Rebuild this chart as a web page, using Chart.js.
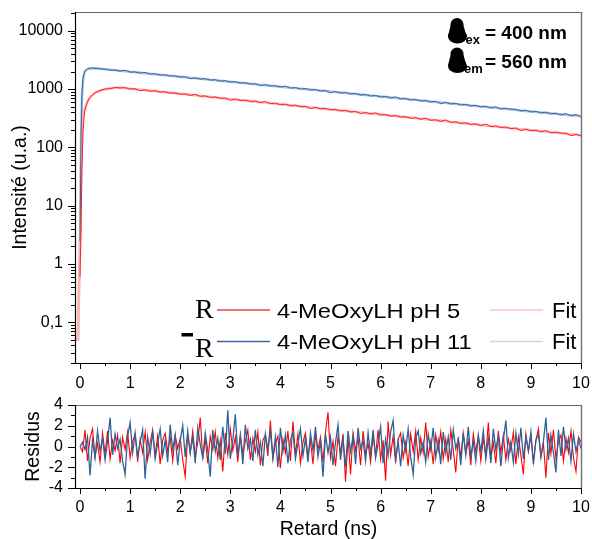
<!DOCTYPE html>
<html><head><meta charset="utf-8">
<script src="https://cdn.jsdelivr.net/npm/chart.js@4/dist/chart.umd.min.js"></script>
<style>
html,body{margin:0;padding:0;background:#fff;}
#wrap{position:relative;width:592px;height:539px;overflow:hidden;}
canvas{position:absolute;left:0;}
#c1{top:0;} #c2{top:395px;}
</style></head><body>
<div id="wrap"><canvas id="c1" width="592" height="395"></canvas><canvas id="c2" width="592" height="144"></canvas></div>
<script>
// ---------- DATA ----------
const seriesLabels = ['4-MeOxyLH pH 5', '4-MeOxyLH pH 11', 'Fit', 'Fit'];
const annotLines = [['\u03BB', 'ex', '= 400 nm'], ['\u03BB', 'em', '= 560 nm']];

// decay measurement times (ns)
const decayT = [0,0.02,0.04,0.06,0.08,0.1,0.15,0.2,0.25,0.3,0.35,0.4,
  0.5,0.6,0.7,0.8,0.9,1.0,1.1,1.2,1.3,1.4,1.5,1.6,1.7,1.8,1.9,2.0,2.1,2.2,2.3,2.4,
  2.5,2.6,2.7,2.8,2.9,3.0,3.1,3.2,3.3,3.4,3.5,3.6,3.7,3.8,3.9,4.0,4.1,4.2,4.3,4.4,
  4.5,4.6,4.7,4.8,4.9,5.0,5.1,5.2,5.3,5.4,5.5,5.6,5.7,5.8,5.9,6.0,6.1,6.2,6.3,6.4,
  6.5,6.6,6.7,6.8,6.9,7.0,7.1,7.2,7.3,7.4,7.5,7.6,7.7,7.8,7.9,8.0,8.1,8.2,8.3,8.4,
  8.5,8.6,8.7,8.8,8.9,9.0,9.1,9.2,9.3,9.4,9.5,9.6,9.7,9.8,9.9,10.0];
const decayPH5 = [0.6,4,45,190,330,440,610,720,800,860,905,945,
  1000,1015,1068,1045,1060,1000,1015,935,975,920,
  938,885,900,848,862,815,830,780,810,750,
  765,718,734,690,705,640,676,636,649,610,
  623,586,612,562,574,540,551,517,529,497,
  508,462,488,458,468,440,449,422,431,405,
  414,380,397,373,392,358,366,343,351,330,
  337,316,324,303,318,291,298,279,296,268,
  275,257,264,247,253,237,250,227,233,218,
  224,209,215,194,206,193,198,185,195,177,
  182,176,175,158,168,157];
const decayPH11 = [2.5,140,850,1480,1830,2060,2230,2280,2310,2260,2275,2220,
  2205,2110,2130,2030,2110,1950,1975,1880,1935,1800,
  1830,1735,1760,1668,1690,1605,1630,1500,1565,1480,
  1510,1425,1450,1368,1395,1315,1345,1268,1290,1215,
  1240,1140,1195,1125,1148,1082,1125,1040,1062,1000,
  1022,962,984,925,945,860,910,855,875,822,
  842,790,808,760,778,731,748,702,735,676,
  692,649,666,624,641,600,616,560,593,555,
  570,533,548,513,527,493,507,474,498,456,
  469,452,451,421,434,405,417,389,402,374,
  386,360,380,346,368,334];

// fitted curves
const fitT    = [-0.1,-0.04,-0.02,0,0.02,0.04,0.06,0.08,0.1,0.15,0.2,0.3,0.4,0.5,0.6,0.8,1,2,3,4,5,6,7,8,9,10];
const fitPH5  = [0.05,0.05,0.3,2,30,160,300,410,480,610,720,860,945,995,1030,1062,1017,828,674,549,448,365,297,242,197,161];
const fitPH11 = [0.05,0.05,0.5,3,120,800,1450,1820,2030,2200,2260,2275,2235,2181,2139,2057,1978,1627,1338,1100,905,745,612,504,414,341];

// weighted residuals, sampled every resStep ns from 0
const resStep = 0.05;
const resPH5 = [0.0,-0.5,1.6,-1.4,0.8,1.7,-1.0,0.3,-1.5,1.3,-0.7,1.5,-1.2,0.6,-0.4,1.1,-1.6,0.9,-0.3,1.4,
  -1.1,0.5,1.2,-1.5,0.7,-0.6,1.4,-1.3,0.4,1.6,-0.8,1.0,-1.7,0.6,1.3,-0.5,0.9,-1.4,1.1,-0.2,
  0.8,-1.3,-2.9,1.2,-0.6,1.5,-1.0,0.4,2.8,-1.2,0.7,-1.6,1.0,-0.3,1.4,-1.1,0.6,-2.4,1.3,-0.8,
  1.7,-0.4,0.9,-1.5,1.2,-0.7,0.5,1.6,-1.3,0.8,-0.5,1.4,-1.8,0.6,1.1,-0.9,2.5,-1.2,0.3,1.0,
  -2.1,0.7,-0.6,1.5,-1.4,2.4,-0.8,1.2,-1.6,0.4,1.3,-1.0,0.6,-1.7,1.1,-0.3,0.9,-1.5,1.4,3.3,
  -1.1,0.5,-1.9,1.0,-0.6,1.2,-3.4,0.8,-2.7,1.3,-0.4,0.9,-1.8,1.5,-0.7,0.3,-1.5,1.1,-0.9,1.6,
  -1.2,0.6,-3.3,2.4,-0.8,1.0,-1.6,0.7,1.3,-1.1,0.4,-1.9,1.2,-0.5,1.5,-1.3,0.8,-0.6,2.3,-1.0,
  0.5,-1.7,1.1,-0.4,1.4,-1.2,0.7,-1.5,1.6,-0.3,-2.5,0.9,-1.0,1.3,-0.7,0.6,-1.8,1.2,-0.5,1.0,
  -1.4,0.8,-0.9,2.3,-1.1,0.4,-1.6,1.5,-0.6,1.1,-1.3,0.7,-0.4,1.4,-1.7,0.9,-0.8,-2.7,1.2,-0.5,
  1.0,-1.5,0.6,1.7,-1.0,0.3,-3.0,1.3,-0.7,1.6,-1.2,0.5,1.1,-1.4,0.8,-0.6,1.5,-1.1,-2.4,0.9,
  0.4];
const resPH11 = [0.0,0.4,-0.3,0.9,-2.8,0.6,-1.1,1.5,-0.4,0.8,-1.3,0.5,2.8,-0.8,1.2,-0.2,0.7,-1.4,-2.7,1.0,
  2.3,-0.6,1.3,-1.0,0.4,1.6,-3.1,0.9,-0.7,1.4,-1.2,0.3,1.7,-0.9,0.6,-1.5,2.1,-0.3,1.1,-1.8,
  0.5,2.0,-1.0,1.5,-0.6,0.9,-1.6,1.8,0.2,-1.1,1.3,-0.4,-2.9,1.6,-0.5,0.8,-1.3,1.9,-0.7,3.5,
  -1.2,0.6,3.1,-0.9,1.0,-1.7,2.1,-0.2,0.7,-1.4,1.6,-0.8,0.4,-1.9,1.2,-0.3,1.5,-1.1,0.9,-2.0,
  1.8,-0.5,1.1,-1.6,0.6,1.4,-1.2,0.3,1.7,-0.9,0.8,-1.5,1.3,-0.4,1.9,-1.0,0.5,-2.9,1.2,-0.6,
  0.9,-1.8,0.4,2.1,-1.3,0.7,-2.0,1.5,-0.5,1.0,-1.7,1.8,-0.2,0.6,-1.4,1.3,-0.8,1.6,-1.1,0.3,
  1.9,-1.6,0.7,-0.9,1.4,2.5,-1.2,0.5,-1.9,1.1,-0.4,1.7,-1.0,-2.7,0.8,1.5,-0.7,0.4,-1.5,1.2,
  -0.3,1.8,-1.1,0.6,-1.7,1.4,-0.6,0.9,-1.3,1.6,-0.2,0.7,-1.8,1.3,-0.8,1.9,-1.0,0.5,-1.4,1.1,
  -0.5,1.5,-1.2,0.8,-1.6,1.7,-0.3,1.0,-1.9,0.6,2.5,-1.1,0.4,-1.5,1.3,-0.7,1.8,-1.2,0.9,-0.4,
  1.4,-1.7,0.6,1.2,-1.0,0.5,2.8,-1.3,1.1,-0.6,-2.5,1.6,-0.9,1.9,-0.3,0.8,-1.4,1.2,-0.5,0.7,
  -0.2];

// axis ticks / labels
const xMajorTicks = [0,1,2,3,4,5,6,7,8,9,10];
const xTickLabels = ['0','1','2','3','4','5','6','7','8','9','10'];
const yMajorTicks = [0.1,1,10,100,1000,10000];
const yTickLabels = ['0,1','1','10','100','1000','10000'];
const resMajorTicks = [-4,-2,0,2,4];
const resTickLabels = ['-4','-2','0','2','4'];

// ---------- helpers ----------
const FONT = '"Liberation Sans", Arial, Helvetica, sans-serif';
const pts = (xs, ys) => ys.map((y, i) => ({x: xs[i], y}));
const resPts = ys => ys.map((y, i) => ({x: i * resStep, y}));
const near = (a, b) => Math.abs(a - b) < 1e-9 * Math.max(1, Math.abs(b));
const labelFor = (v, majors, labels) => { const i = majors.findIndex(m => near(v, m)); return i < 0 ? '' : labels[i]; };
const noPad = s => { s.paddingLeft = 0; s.paddingRight = 0; s.paddingTop = 0; s.paddingBottom = 0; };

const xTickValues = [];
xMajorTicks.forEach((v, i) => { xTickValues.push(v); if (i < xMajorTicks.length - 1) xTickValues.push((v + xMajorTicks[i + 1]) / 2); });
const yTickValues = [];
[0.01].concat(yMajorTicks).forEach(d => { for (let k = 1; k <= 9; k++) { const v = +(d * k).toPrecision(6); if (v >= 0.02 && v <= 21000) yTickValues.push(v); } });
const resTickValues = [];
for (let i = 0; i < resMajorTicks.length; i++) { resTickValues.push(resMajorTicks[i]); if (i < resMajorTicks.length - 1) resTickValues.push((resMajorTicks[i] + resMajorTicks[i + 1]) / 2); }

function line(ctx, x1, y1, x2, y2, color, w) {
  ctx.beginPath(); ctx.strokeStyle = color; ctx.lineWidth = w; ctx.moveTo(x1, y1); ctx.lineTo(x2, y2); ctx.stroke();
}

const frameAndTicks = {
  id: 'frameAndTicks',
  afterDraw(chart, args, opts) {
    const ctx = chart.ctx, a = chart.chartArea;
    const xs = chart.scales.x, ys = chart.scales.y;
    ctx.save();
    line(ctx, a.left, a.top + 0.5, a.right, a.top + 0.5, '#666', 1);
    line(ctx, a.right - 0.5, a.top, a.right - 0.5, a.bottom, '#777', 1.5);
    line(ctx, a.left + 0.5, a.top, a.left + 0.5, a.bottom + 0.5, '#000', 1.2);
    line(ctx, a.left, a.bottom + 0.5, a.right, a.bottom + 0.5, '#000', 1.2);
    xs.ticks.forEach(t => {
      const p = Math.round(xs.getPixelForValue(t.value)) + 0.5;
      const L = xMajorTicks.some(m => near(t.value, m)) ? 6 : 3;
      line(ctx, p, a.bottom, p, a.bottom + L, '#000', 1);
    });
    ys.ticks.forEach(t => {
      const p = Math.round(ys.getPixelForValue(t.value)) + 0.5;
      const L = opts.yMajor.some(m => near(t.value, m)) ? 7 : 4;
      line(ctx, a.left - L, p, a.left, p, '#000', 1);
    });
    ctx.restore();
  }
};

function stretchText(ctx, txt, x, y, sx) {
  ctx.save(); ctx.translate(x, y); ctx.scale(sx, 1); ctx.fillText(txt, 0, 0); ctx.restore();
}
function blob(ctx, cx, cy) {
  ctx.beginPath(); ctx.arc(cx, cy - 11.5, 6.5, 0, Math.PI * 2); ctx.fill();
  ctx.beginPath(); ctx.ellipse(cx + 0.5, cy + 0.5, 9.5, 7, 0, 0, Math.PI * 2); ctx.fill();
  ctx.beginPath(); ctx.moveTo(cx - 6, cy - 12); ctx.lineTo(cx + 6, cy - 12); ctx.lineTo(cx + 9.5, cy); ctx.lineTo(cx - 9, cy); ctx.closePath(); ctx.fill();
}

const overlay = {
  id: 'overlay',
  afterDraw(chart) {
    const ctx = chart.ctx;
    ctx.save();
    ctx.fillStyle = '#000';
    ctx.textBaseline = 'alphabetic';
    // annotation (top right)
    const rows = [{b: 38.5, sb: 43.5, sx: 465.5, cy: 36}, {b: 67.5, sb: 73, sx: 464, cy: 65.5}];
    rows.forEach((r, i) => {
      const [lam, sub, rest] = annotLines[i];
      ctx.font = 'bold 22px ' + FONT; ctx.fillText(lam, 450, r.b);
      ctx.font = 'bold 13px ' + FONT; ctx.fillText(sub, r.sx, r.sb);
      blob(ctx, 457, r.cy);
      ctx.font = 'bold 19px ' + FONT; ctx.fillText(rest, 485, r.b);
    });
    // legend
    ctx.font = '28px "Liberation Serif", serif';
    ctx.fillText('R', 195, 318);
    ctx.fillText('R', 195, 356.5);
    ctx.fillRect(181.5, 333, 11.5, 3.5);
    line(ctx, 217, 310, 270, 310, '#e64646', 1.5);
    line(ctx, 217, 341.5, 270, 341.5, '#3d6a9a', 1.5);
    line(ctx, 490, 310, 543, 310, '#ffc2c2', 1.5);
    line(ctx, 490, 341.5, 543, 341.5, '#c6d6eb', 1.5);
    ctx.fillStyle = '#000000';
    ctx.globalAlpha = 1;
    ctx.font = '21px ' + FONT;
    stretchText(ctx, seriesLabels[0], 277, 317.5, 1.13);
    stretchText(ctx, seriesLabels[1], 277, 349, 1.13);
    ctx.font = '22px ' + FONT;
    ctx.fillText(seriesLabels[2], 552, 317.5);
    ctx.fillText(seriesLabels[3], 552, 349);
    ctx.restore();
  }
};

const tickFont = {family: FONT, size: 16};
const titleFont = {family: FONT, size: 19.5, lineHeight: 1.2};

// ---------- decay chart ----------
new Chart(document.getElementById('c1'), {
  type: 'line',
  data: {
    datasets: [
      {label: seriesLabels[2], data: pts(fitT, fitPH5), borderColor: '#ffb4b4', borderWidth: 2.5, order: 2},
      {label: seriesLabels[3], data: pts(fitT, fitPH11), borderColor: '#a9c3e2', borderWidth: 2.5, order: 2},
      {label: seriesLabels[0], data: pts(decayT, decayPH5), borderColor: '#ff2020', borderWidth: 1, order: 1},
      {label: seriesLabels[1], data: pts(decayT, decayPH11), borderColor: '#33669c', borderWidth: 1, order: 1}
    ]
  },
  options: {
    responsive: false, animation: false, devicePixelRatio: 1,
    layout: {padding: {top: 12, right: 10, left: 0, bottom: 0}},
    elements: {point: {radius: 0}, line: {tension: 0}},
    plugins: {legend: {display: false}, tooltip: {enabled: false}, frameAndTicks: {yMajor: yMajorTicks}},
    scales: {
      x: {
        type: 'linear', min: -0.1, max: 10.02,
        afterBuildTicks: s => { s.ticks = xTickValues.map(v => ({value: v})); },
        afterFit: s => { s.height = 32; noPad(s); },
        grid: {display: false, drawTicks: false},
        border: {display: false},
        ticks: {autoSkip: false, maxRotation: 0, padding: 10.5, color: '#000', font: tickFont,
          callback: v => labelFor(v, xMajorTicks, xTickLabels)}
      },
      y: {
        type: 'logarithmic', min: 0.02, max: 21000,
        afterBuildTicks: s => { s.ticks = yTickValues.map(v => ({value: v})); },
        afterFit: s => { s.width = 75; noPad(s); },
        grid: {display: false, drawTicks: false},
        border: {display: false},
        title: {display: true, text: 'Intensité (u.a.)', color: '#000', font: titleFont, padding: {top: 9, bottom: 0}},
        ticks: {autoSkip: false, padding: 12, color: '#000', font: tickFont,
          callback: v => labelFor(v, yMajorTicks, yTickLabels)}
      }
    }
  },
  plugins: [frameAndTicks, overlay]
});

// ---------- residuals chart ----------
new Chart(document.getElementById('c2'), {
  type: 'line',
  data: {
    datasets: [
      {label: seriesLabels[0], data: resPts(resPH5), borderColor: '#ff0000', borderWidth: 1.1, order: 2},
      {label: seriesLabels[1], data: resPts(resPH11), borderColor: '#2f6398', borderWidth: 1.3, order: 1}
    ]
  },
  options: {
    responsive: false, animation: false, devicePixelRatio: 1,
    layout: {padding: {top: 10, right: 10, left: 0, bottom: 0}},
    elements: {point: {radius: 0}, line: {tension: 0}},
    plugins: {legend: {display: false}, tooltip: {enabled: false}, frameAndTicks: {yMajor: resMajorTicks}},
    scales: {
      x: {
        type: 'linear', min: -0.1, max: 10.02,
        afterBuildTicks: s => { s.ticks = xTickValues.map(v => ({value: v})); },
        afterFit: s => { s.height = 51; noPad(s); },
        grid: {display: false, drawTicks: false},
        border: {display: false},
        title: {display: true, text: 'Retard (ns)', color: '#000', font: {family: FONT, size: 19.5, lineHeight: 1.0}, padding: {top: 0, bottom: 0}},
        ticks: {autoSkip: false, maxRotation: 0, padding: 9.5, color: '#000', font: tickFont,
          callback: v => labelFor(v, xMajorTicks, xTickLabels)}
      },
      y: {
        type: 'linear', min: -4, max: 4,
        afterBuildTicks: s => { s.ticks = resTickValues.map(v => ({value: v})); },
        afterFit: s => { s.width = 75; noPad(s); },
        grid: {display: false, drawTicks: false},
        border: {display: false},
        title: {display: true, text: 'Residus', color: '#000', font: titleFont, padding: {top: 22, bottom: 0}},
        ticks: {autoSkip: false, padding: 12, color: '#000', font: tickFont,
          callback: v => labelFor(v, resMajorTicks, resTickLabels)}
      }
    }
  },
  plugins: [frameAndTicks]
});
</script>
</body></html>
